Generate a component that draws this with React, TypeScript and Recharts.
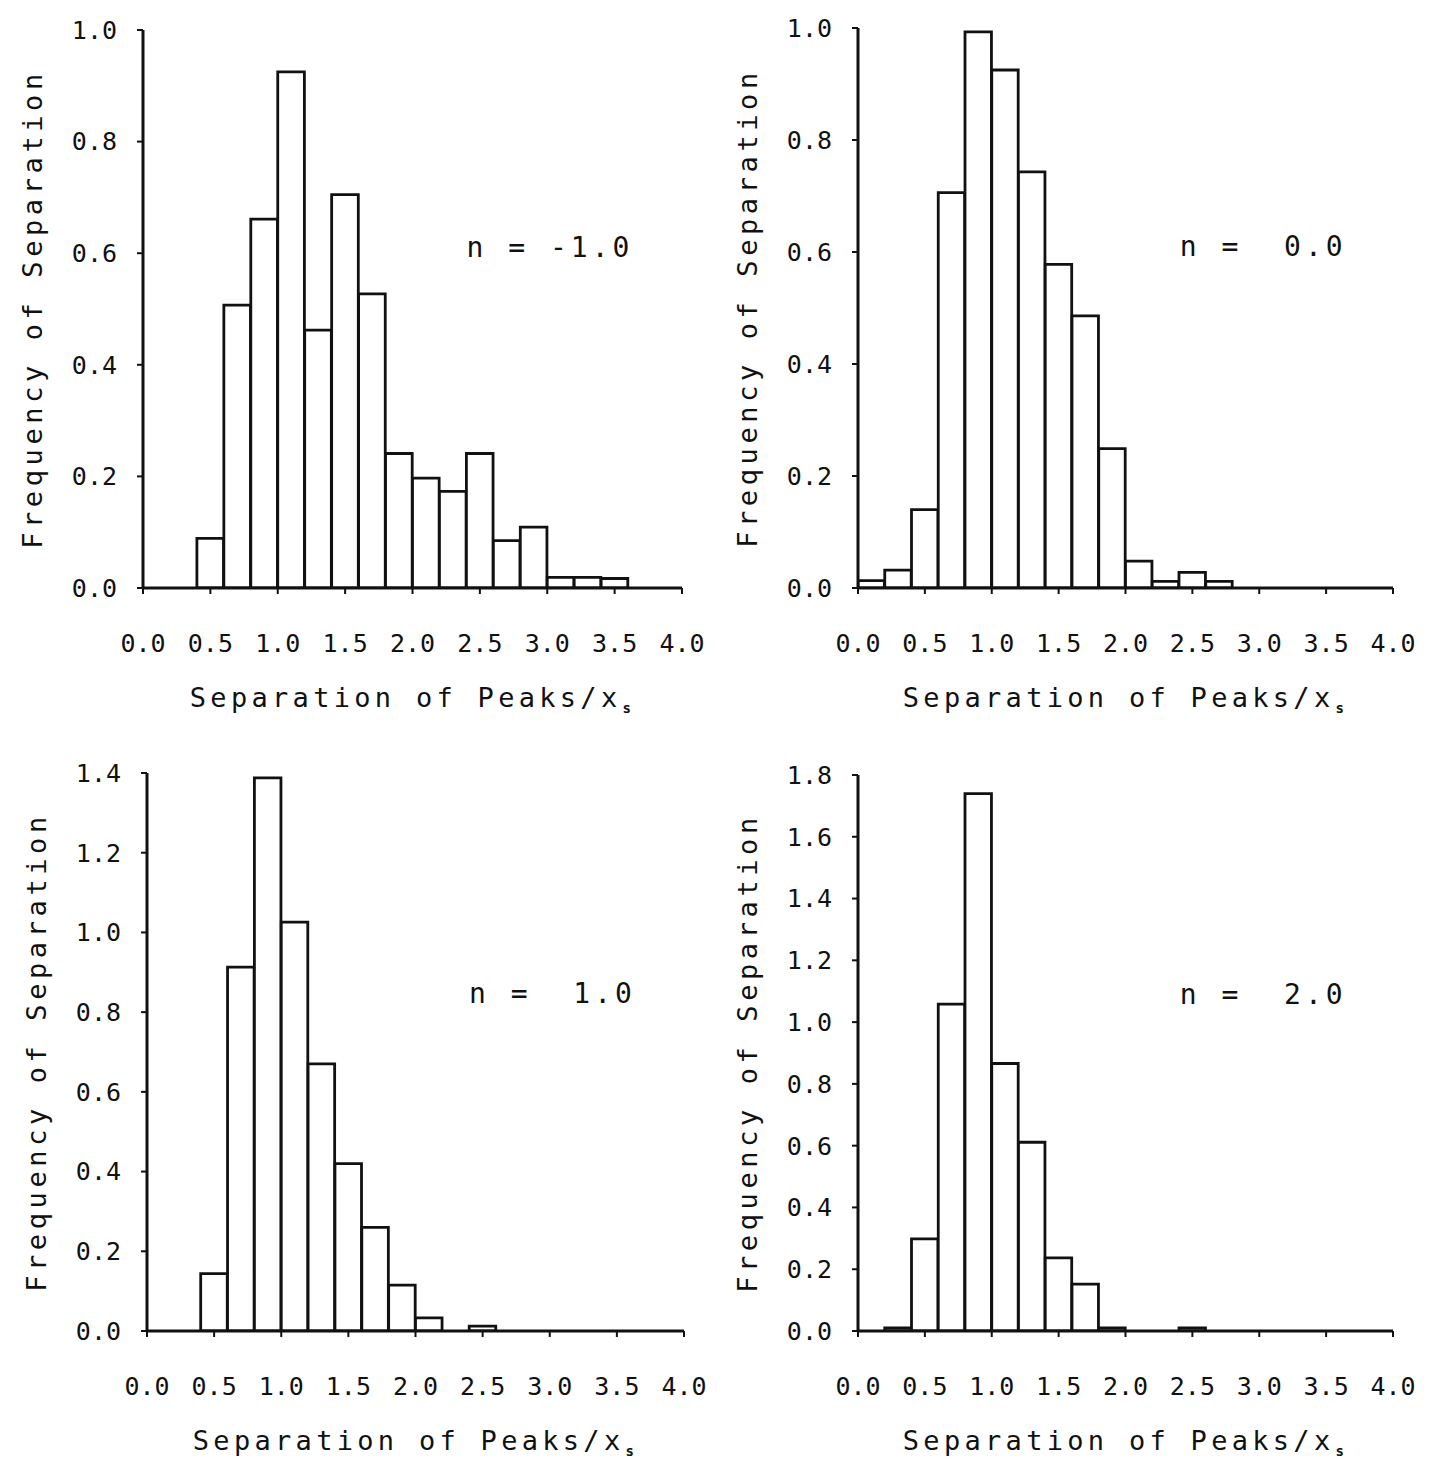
import React from 'react';
import { BarChart, Bar, XAxis, YAxis, ReferenceDot, Label } from 'recharts';

// histogram bins of width 0.2, given by their centres on "Separation of Peaks / x_s"
const binCenters = [0.1, 0.3, 0.5, 0.7, 0.9, 1.1, 1.3, 1.5, 1.7, 1.9, 2.1, 2.3, 2.5, 2.7, 2.9, 3.1, 3.3, 3.5, 3.7, 3.9];

const freqNegOne = [0, 0, 0.089, 0.507, 0.661, 0.925, 0.462, 0.705, 0.527, 0.241, 0.197, 0.173, 0.241, 0.085, 0.109, 0.019, 0.019, 0.017, 0, 0];
const freqZero = [0.013, 0.032, 0.14, 0.706, 0.993, 0.925, 0.743, 0.578, 0.486, 0.249, 0.048, 0.012, 0.028, 0.012, 0, 0, 0, 0, 0, 0];
const freqOne = [0, 0, 0.144, 0.913, 1.388, 1.026, 0.67, 0.42, 0.26, 0.115, 0.033, 0, 0.012, 0, 0, 0, 0, 0, 0, 0];
const freqTwo = [0, 0.01, 0.298, 1.058, 1.74, 0.866, 0.611, 0.237, 0.152, 0.01, 0, 0, 0.01, 0, 0, 0, 0, 0, 0, 0];

const xTicks = [0, 0.5, 1, 1.5, 2, 2.5, 3, 3.5, 4];
const yTicksTop = [0, 0.2, 0.4, 0.6, 0.8, 1.0];
const yTicksOne = [0, 0.2, 0.4, 0.6, 0.8, 1.0, 1.2, 1.4];
const yTicksTwo = [0, 0.2, 0.4, 0.6, 0.8, 1.0, 1.2, 1.4, 1.6, 1.8];

const noteNegOne = 'n =\u00A0-1.0';
const noteZero = 'n =\u00A0\u00A00.0';
const noteOne = 'n =\u00A0\u00A01.0';
const noteTwo = 'n =\u00A0\u00A02.0';

const FONT = '"DejaVu Sans Mono", "Liberation Mono", monospace';
const INK = '#111';
const BIN_WIDTH = 0.2;

function XTitle(props: any) {
  const vb = props.viewBox;
  return (
    <text x={vb.x + vb.width / 2} y={vb.y + 109} textAnchor="middle" dominantBaseline="central"
      fontFamily={FONT} fontSize={27} letterSpacing={4.3} fill={INK}>
      Separation of Peaks/x
      <tspan dx={1} dy={11} fontSize={14} fontWeight="bold">s</tspan>
    </text>
  );
}

function YTitle(props: any) {
  const vb = props.viewBox;
  const cx = vb.x + 29;
  const cy = vb.y + vb.height / 2;
  return (
    <text x={cx} y={cy} transform={`rotate(-90 ${cx} ${cy})`} textAnchor="middle" dominantBaseline="central"
      fontFamily={FONT} fontSize={27} letterSpacing={4.6} fill={INK}>
      Frequency of Separation
    </text>
  );
}

function Histogram(props: {
  values: number[], yTicks: number[], note: string, noteX: number, noteY: number,
  left: number, top: number, plotW: number, plotH: number,
}) {
  const data = binCenters.map((x, i) => ({ x, freq: props.values[i] }));
  const yMax = props.yTicks[props.yTicks.length - 1];
  // bar width = one bin on the 0..4 axis, a hair under so recharts keeps it as given
  const barSize = (props.plotW * BIN_WIDTH) / 4 - 0.3;

  const renderNote = (p: any) => {
    const vb = p.viewBox;
    return (
      <text x={vb.x + (vb.width || 0) / 2} y={vb.y + (vb.height || 0) / 2} textAnchor="middle" dominantBaseline="central"
        fontFamily={FONT} fontSize={28} letterSpacing={4} fill={INK}>
        {props.note}
      </text>
    );
  };

  return (
    <div style={{ position: 'absolute', left: props.left - 140, top: props.top - 30 }}>
      <BarChart width={props.plotW + 180} height={props.plotH + 170} data={data}
        margin={{ top: 30, right: 40, bottom: 0, left: 0 }} barGap={0}>
        <XAxis dataKey="x" type="number" domain={[0, 4]} ticks={xTicks} allowDataOverflow
          height={140} tickSize={6} tickMargin={40} interval={0}
          tickFormatter={(v: number) => v.toFixed(1)}
          axisLine={{ stroke: INK, strokeWidth: 3 }} tickLine={{ stroke: INK, strokeWidth: 2 }}
          tick={{ fill: INK, fontSize: 25, fontFamily: FONT }}>
          <Label content={XTitle} />
        </XAxis>
        <YAxis type="number" domain={[0, yMax]} ticks={props.yTicks} allowDataOverflow
          width={140} tickSize={6} tickMargin={20} interval={0}
          tickFormatter={(v: number) => v.toFixed(1)}
          axisLine={{ stroke: INK, strokeWidth: 3 }} tickLine={{ stroke: INK, strokeWidth: 2 }}
          tick={{ fill: INK, fontSize: 25, fontFamily: FONT }}>
          <Label content={YTitle} />
        </YAxis>
        <Bar dataKey="freq" barSize={barSize} fill="#fff" stroke={INK} strokeWidth={2.8} isAnimationActive={false} />
        <ReferenceDot x={props.noteX} y={props.noteY} r={0} fill="none" stroke="none" label={renderNote} />
      </BarChart>
    </div>
  );
}

export default function App() {
  return (
    <div style={{ position: 'absolute', left: 0, top: 0, width: 1431, height: 1467, background: '#fff', overflow: 'hidden' }}>
      <Histogram values={freqNegOne} yTicks={yTicksTop} note={noteNegOne} noteX={3.02} noteY={0.61}
        left={143} top={30} plotW={539} plotH={558} />
      <Histogram values={freqZero} yTicks={yTicksTop} note={noteZero} noteX={3.03} noteY={0.61}
        left={858} top={28} plotW={535} plotH={560} />
      <Histogram values={freqOne} yTicks={yTicksOne} note={noteOne} noteX={3.02} noteY={0.848}
        left={147} top={773} plotW={537} plotH={558} />
      <Histogram values={freqTwo} yTicks={yTicksTwo} note={noteTwo} noteX={3.03} noteY={1.09}
        left={858} top={775} plotW={535} plotH={556} />
    </div>
  );
}
